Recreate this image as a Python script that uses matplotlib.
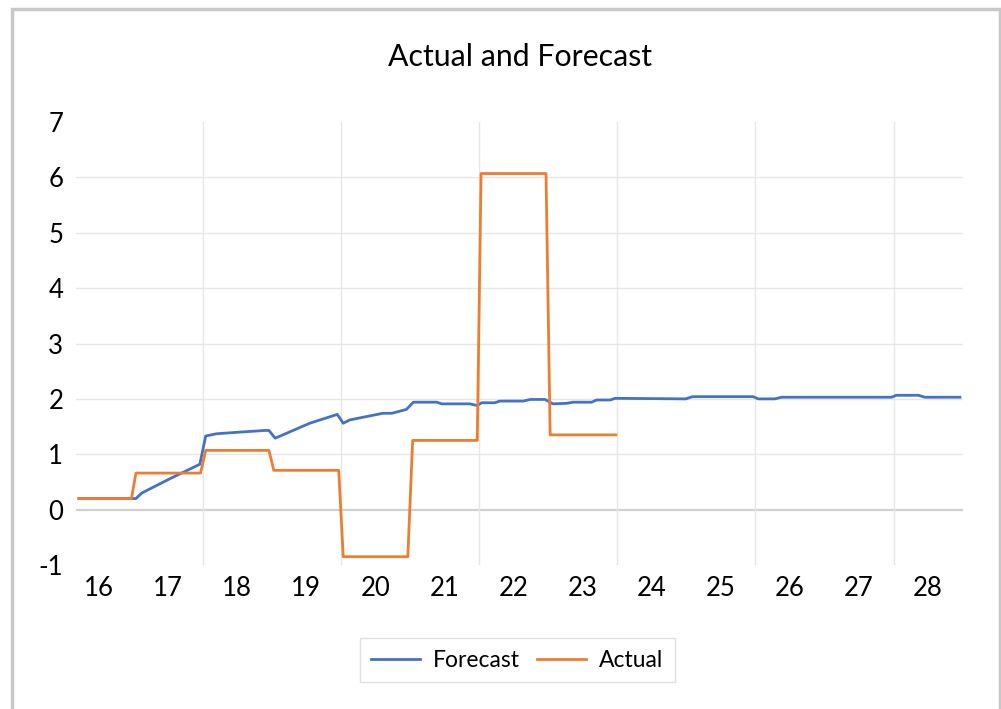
import matplotlib
matplotlib.use('Agg')
import matplotlib.pyplot as plt
import matplotlib.patches as mpatches

plt.rcParams['font.family'] = ['Lato', 'DejaVu Sans']
plt.rcParams['axes.unicode_minus'] = False

# Time in days (day of month)
actual_t = [15.71, 16.47, 16.535, 17.47, 17.545, 18.46, 18.53, 19.47, 19.535,
            20.47, 20.54, 21.475, 21.53, 22.47, 22.53, 23.48]
actual_v = [0.2, 0.2, 0.66, 0.66, 1.07, 1.07, 0.71, 0.71, -0.85,
            -0.85, 1.25, 1.25, 6.07, 6.07, 1.35, 1.35]

forecast_t = [15.71, 16.47, 16.535, 16.62, 17.03, 17.46, 17.545, 17.70, 18.04,
              18.40, 18.46, 18.55, 19.05, 19.45, 19.535, 19.63, 20.11, 20.24,
              20.45, 20.55, 20.89, 20.96, 21.37, 21.47, 21.54, 21.73, 21.80,
              22.14, 22.24, 22.455, 22.57, 22.77, 22.86, 23.13, 23.20, 23.40,
              23.47, 24.49, 24.59, 25.47, 25.54, 25.78, 25.88, 27.47, 27.54,
              27.86, 27.95, 28.46]
forecast_v = [0.2, 0.2, 0.2, 0.30, 0.56, 0.82, 1.33, 1.37, 1.40,
              1.43, 1.43, 1.29, 1.56, 1.72, 1.56, 1.62, 1.74, 1.74,
              1.81, 1.94, 1.94, 1.91, 1.91, 1.88, 1.93, 1.93, 1.96,
              1.96, 1.99, 1.99, 1.91, 1.92, 1.94, 1.94, 1.98, 1.98,
              2.01, 2.00, 2.04, 2.04, 2.00, 2.00, 2.03, 2.03, 2.065,
              2.065, 2.03, 2.03]

day_labels = list(range(16, 29))
y_ticks = list(range(-1, 8))
v_grid = [17.5, 19.5, 21.5, 23.5, 25.5, 27.5]

BLUE = '#4472C4'
ORANGE = '#ED7D31'

fig = plt.figure(figsize=(10.01, 7.09), dpi=100)
ax = fig.add_axes([0.0756, 0.2031, 0.8861, 0.6248])

# outer chart border
fig.patches.append(mpatches.Rectangle((12 / 1001, -0.05), 988 / 1001, 1.05 - 9 / 709,
                                      transform=fig.transFigure, fill=False,
                                      edgecolor='#c8c8c8', linewidth=2.5))

for y in y_ticks:
    if y in (-1, 7):
        continue
    if y == 0:
        ax.axhline(y, color='#d0d0d0', linewidth=1.6, zorder=1)
    else:
        ax.axhline(y, color='#e6e6e6', linewidth=1.0, zorder=1)
for x in v_grid:
    ax.axvline(x, color='#e6e6e6', linewidth=1.0, zorder=1)

ax.plot(forecast_t, forecast_v, color=BLUE, linewidth=2.0, label='Forecast', zorder=3)
ax.plot(actual_t, actual_v, color=ORANGE, linewidth=2.0, label='Actual', zorder=4)

ax.set_xlim(15.663, 28.5)
ax.set_ylim(-1, 7)
ax.set_xticks(day_labels)
ax.set_xticklabels([str(d) for d in day_labels])
ax.set_yticks(y_ticks)
ax.tick_params(axis='both', length=0, labelsize=18.5, colors='#000000')
ax.tick_params(axis='x', pad=8)
ax.tick_params(axis='y', pad=9)
for s in ax.spines.values():
    s.set_visible(False)

fig.text(0.519, 0.9196, 'Actual and Forecast', ha='center', va='center', fontsize=21.8)

fig.legend(loc='center', bbox_to_anchor=(0.517, 0.069), ncol=2, fontsize=16.5,
           frameon=True, fancybox=False, edgecolor='#d9d9d9', handlelength=2.1,
           handletextpad=0.6, columnspacing=0.75, borderpad=0.5)

fig.savefig('out.png', dpi=100)
